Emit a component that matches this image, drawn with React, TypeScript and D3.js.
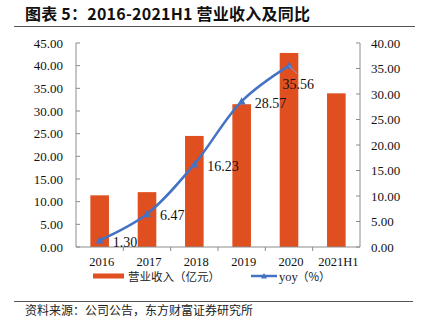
import React from "react";
import * as d3 from "d3";

const categories = ["2016", "2017", "2018", "2019", "2020", "2021H1"];
const revenue = [11.4, 12.1, 24.5, 31.5, 42.8, 33.9];
const yoyCats = ["2016", "2017", "2018", "2019", "2020"];
const yoy = [1.3, 6.47, 16.23, 28.57, 35.56];
const leftTicks = [0, 5, 10, 15, 20, 25, 30, 35, 40, 45];
const rightTicks = [0, 5, 10, 15, 20, 25, 30, 35, 40];

const W = 424, H = 328;
const L = 76, R = 360, T = 43, B = 247;
const BAR = "#E04F1F";
const LINE = "#4472C4";
const AXIS = "#8c8c8c";
const SERIF = "'Liberation Serif', 'Times New Roman', serif";
const CJK = "'Noto Sans CJK SC', sans-serif";

export default function App() {
  const xb = d3.scaleBand<string>().domain(categories).range([L, R]);
  const yL = d3.scaleLinear().domain([0, 45]).range([B, T]);
  const yR = d3.scaleLinear().domain([0, 40]).range([B, T]);
  const cx = (c: string) => (xb(c) as number) + xb.bandwidth() / 2;
  const pts: [number, number][] = yoyCats.map((c, i) => [cx(c), yR(yoy[i])]);
  const line = d3.line().curve(d3.curveCatmullRom.alpha(0.5))(pts) as string;
  const tri = (px: number, py: number, s = 4) =>
    `M${px},${py - s} L${px + s},${py + s * 0.8} L${px - s},${py + s * 0.8} Z`;

  return (
    <svg width={W} height={H} style={{ position: "absolute", left: 0, top: 0, background: "#fff" }}>
      <text x={25} y={20} fontFamily={CJK} fontWeight="bold" fontSize={16} fill="#111" textLength={285}>
        图表 5：2016-2021H1 营业收入及同比
      </text>
      <line x1={14} x2={415} y1={26.5} y2={26.5} stroke="#555" strokeWidth={1} />

      {/* left axis */}
      <line x1={L} x2={L} y1={T} y2={B} stroke={AXIS} />
      {leftTicks.map((t) => (
        <g key={"l" + t}>
          <line x1={L} x2={L + 4} y1={yL(t)} y2={yL(t)} stroke={AXIS} />
          <text x={63} y={yL(t)} dy="0.35em" textAnchor="end" fontFamily={SERIF} fontSize={13} fill="#111">
            {t.toFixed(2)}
          </text>
        </g>
      ))}
      {/* right axis */}
      <line x1={R} x2={R} y1={T} y2={B} stroke={AXIS} />
      {rightTicks.map((t) => (
        <g key={"r" + t}>
          <line x1={R - 4} x2={R} y1={yR(t)} y2={yR(t)} stroke={AXIS} />
          <text x={371} y={yR(t)} dy="0.35em" textAnchor="start" fontFamily={SERIF} fontSize={13} fill="#111">
            {t.toFixed(2)}
          </text>
        </g>
      ))}

      {/* bars */}
      {categories.map((c, i) => (
        <rect key={c} x={cx(c) - 9.3} width={18.6} y={yL(revenue[i])} height={B - yL(revenue[i])} fill={BAR} />
      ))}

      {/* x axis */}
      <line x1={L} x2={R} y1={B} y2={B} stroke={AXIS} />
      {categories.map((c, i) => (
        <g key={"x" + c}>
          {i > 0 && <line x1={xb(c)} x2={xb(c)} y1={B} y2={B + 4} stroke={AXIS} />}
          <text x={cx(c) + 2} y={262} dy="0.35em" textAnchor="middle" fontFamily={SERIF} fontSize={12.5} fill="#111">
            {c}
          </text>
        </g>
      ))}

      {/* line */}
      <path d={line} fill="none" stroke={LINE} strokeWidth={2.5} />
      {pts.map(([px, py], i) => (
        <path key={"m" + i} d={tri(px, py)} fill={LINE} />
      ))}
      <line x1={pts[4][0]} y1={pts[4][1]} x2={pts[4][0] + 8} y2={pts[4][1] + 8} stroke="#9aa6b8" strokeWidth={1} />
      {pts.map(([px, py], i) => {
        const last = i === 4;
        return (
          <text key={"t" + i} x={last ? px - 6.5 : px + 13} y={last ? py + 18 : py + 1.5} dy="0.35em"
            fontFamily={SERIF} fontSize={14} fill="#111">
            {yoy[i].toFixed(2)}
          </text>
        );
      })}

      {/* legend */}
      <rect x={93} y={273.5} width={31} height={5} fill={BAR} />
      <text x={128} y={277} dy="0.35em" fontFamily={CJK} fontSize={11.5} fill="#222">营业收入（亿元）</text>
      <line x1={251} x2={277} y1={276} y2={276} stroke={LINE} strokeWidth={2.5} />
      <path d={tri(264, 276, 3)} fill={LINE} />
      <text x={279} y={277} dy="0.35em" fontFamily={SERIF} fontSize={12.5} fill="#222">yoy</text>
      <text x={297} y={277} dy="0.35em" fontFamily={CJK} fontSize={11.5} fill="#222">（%）</text>

      <line x1={14} x2={413} y1={301.5} y2={301.5} stroke="#555" strokeWidth={1} />
      <text x={25} y={311} dy="0.35em" fontFamily={CJK} fontSize={12} fill="#222">
        资料来源：公司公告，东方财富证券研究所
      </text>
    </svg>
  );
}
